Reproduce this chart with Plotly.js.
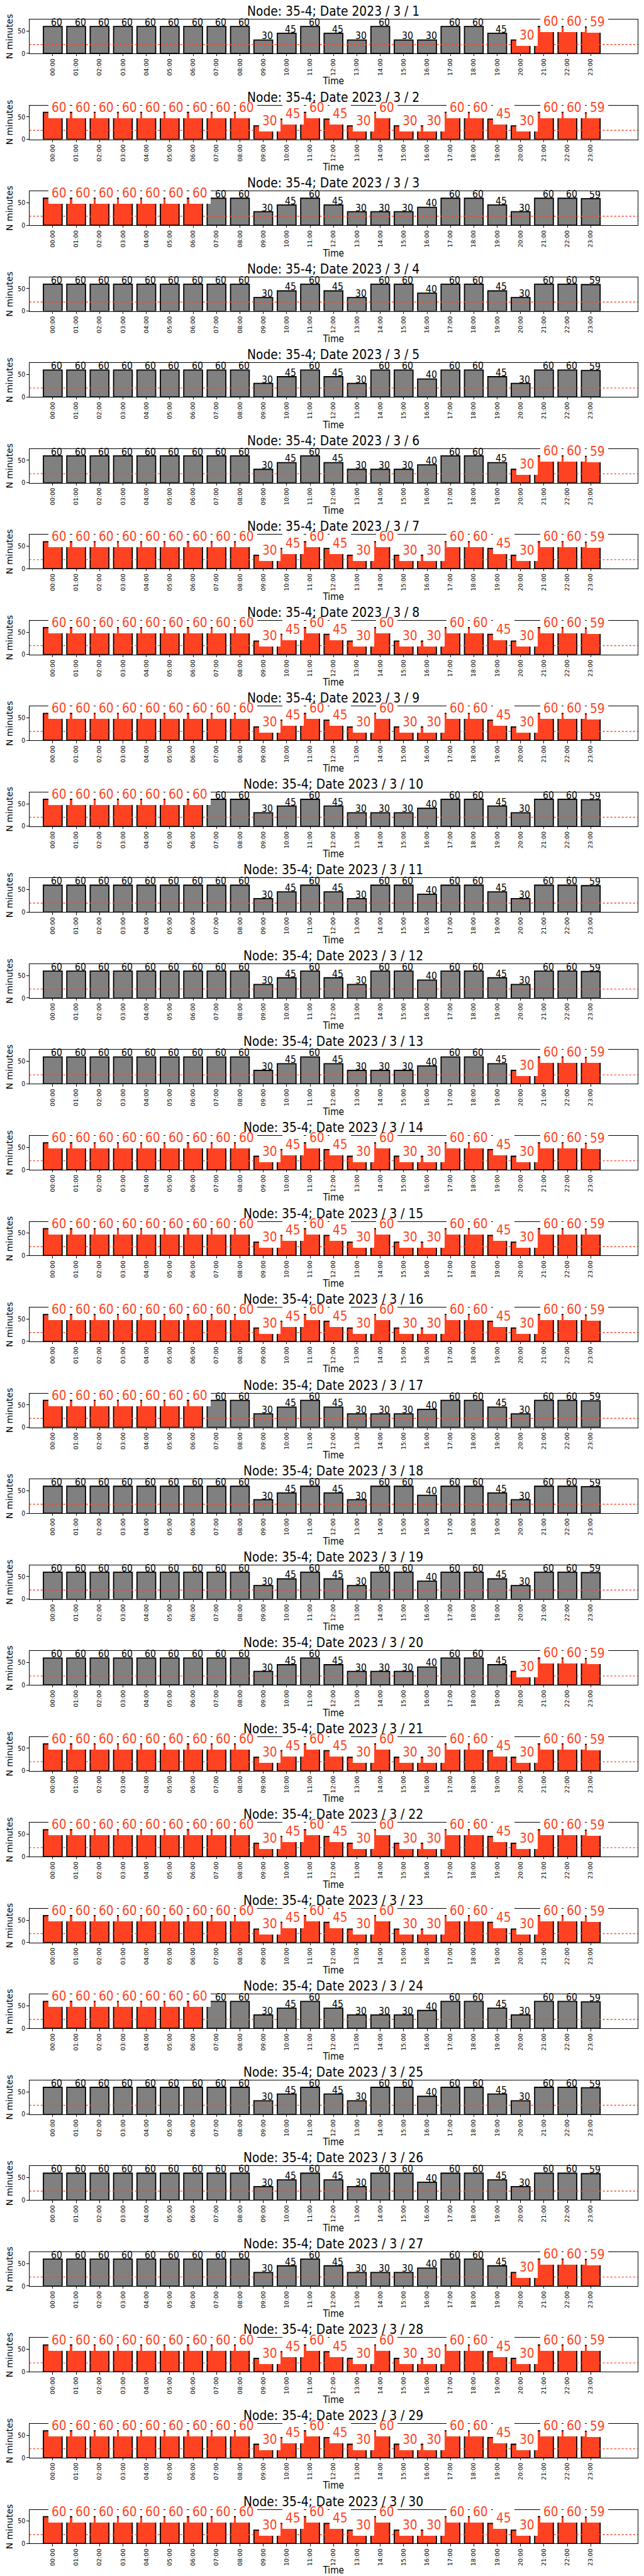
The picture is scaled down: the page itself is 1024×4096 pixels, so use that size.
<!DOCTYPE html>
<html>
<head>
<meta charset="utf-8">
<script src="https://cdn.plot.ly/plotly-3.0.1.min.js"></script>
<style>
html, body { margin: 0; padding: 0; background: #ffffff; }
#chart { width: 1024px; height: 4096px; }
</style>
</head>
<body>
<div id="chart"></div>
<script>
// ---------------- data ----------------
const nodeName = "35-4";
const year = 2023;
const month = 3;
const dayOfMonth = [1,2,3,4,5,6,7,8,9,10,11,12,13,14,15,16,17,18,19,20,21,22,23,24,25,26,27,28,29,30];
const hours = ["00:00","01:00","02:00","03:00","04:00","05:00","06:00","07:00","08:00","09:00","10:00","11:00",
               "12:00","13:00","14:00","15:00","16:00","17:00","18:00","19:00","20:00","21:00","22:00","23:00"];

const day01 = [60,60,60,60,60,60,60,60,60,30,45,60,45,30,60,30,30,60,60,45,30,60,60,59];
const day02 = [60,60,60,60,60,60,60,60,60,30,45,60,45,30,60,30,30,60,60,45,30,60,60,59];
const day03 = [60,60,60,60,60,60,60,60,60,30,45,60,45,30,30,30,40,60,60,45,30,60,60,59];
const day04 = [60,60,60,60,60,60,60,60,60,30,45,60,45,30,60,60,40,60,60,45,30,60,60,59];
const day05 = [60,60,60,60,60,60,60,60,60,30,45,60,45,30,60,60,40,60,60,45,30,60,60,59];
const day06 = [60,60,60,60,60,60,60,60,60,30,45,60,45,30,30,30,40,60,60,45,30,60,60,59];
const day07 = [60,60,60,60,60,60,60,60,60,30,45,60,45,30,60,30,30,60,60,45,30,60,60,59];
const day08 = [60,60,60,60,60,60,60,60,60,30,45,60,45,30,60,30,30,60,60,45,30,60,60,59];
const day09 = [60,60,60,60,60,60,60,60,60,30,45,60,45,30,60,30,30,60,60,45,30,60,60,59];
const day10 = [60,60,60,60,60,60,60,60,60,30,45,60,45,30,30,30,40,60,60,45,30,60,60,59];
const day11 = [60,60,60,60,60,60,60,60,60,30,45,60,45,30,60,60,40,60,60,45,30,60,60,59];
const day12 = [60,60,60,60,60,60,60,60,60,30,45,60,45,30,60,60,40,60,60,45,30,60,60,59];
const day13 = [60,60,60,60,60,60,60,60,60,30,45,60,45,30,30,30,40,60,60,45,30,60,60,59];
const day14 = [60,60,60,60,60,60,60,60,60,30,45,60,45,30,60,30,30,60,60,45,30,60,60,59];
const day15 = [60,60,60,60,60,60,60,60,60,30,45,60,45,30,60,30,30,60,60,45,30,60,60,59];
const day16 = [60,60,60,60,60,60,60,60,60,30,45,60,45,30,60,30,30,60,60,45,30,60,60,59];
const day17 = [60,60,60,60,60,60,60,60,60,30,45,60,45,30,30,30,40,60,60,45,30,60,60,59];
const day18 = [60,60,60,60,60,60,60,60,60,30,45,60,45,30,60,60,40,60,60,45,30,60,60,59];
const day19 = [60,60,60,60,60,60,60,60,60,30,45,60,45,30,60,60,40,60,60,45,30,60,60,59];
const day20 = [60,60,60,60,60,60,60,60,60,30,45,60,45,30,30,30,40,60,60,45,30,60,60,59];
const day21 = [60,60,60,60,60,60,60,60,60,30,45,60,45,30,60,30,30,60,60,45,30,60,60,59];
const day22 = [60,60,60,60,60,60,60,60,60,30,45,60,45,30,60,30,30,60,60,45,30,60,60,59];
const day23 = [60,60,60,60,60,60,60,60,60,30,45,60,45,30,60,30,30,60,60,45,30,60,60,59];
const day24 = [60,60,60,60,60,60,60,60,60,30,45,60,45,30,30,30,40,60,60,45,30,60,60,59];
const day25 = [60,60,60,60,60,60,60,60,60,30,45,60,45,30,60,60,40,60,60,45,30,60,60,59];
const day26 = [60,60,60,60,60,60,60,60,60,30,45,60,45,30,60,60,40,60,60,45,30,60,60,59];
const day27 = [60,60,60,60,60,60,60,60,60,30,45,60,45,30,30,30,40,60,60,45,30,60,60,59];
const day28 = [60,60,60,60,60,60,60,60,60,30,45,60,45,30,60,30,30,60,60,45,30,60,60,59];
const day29 = [60,60,60,60,60,60,60,60,60,30,45,60,45,30,60,30,30,60,60,45,30,60,60,59];
const day30 = [60,60,60,60,60,60,60,60,60,30,45,60,45,30,60,30,30,60,60,45,30,60,60,59];
const minutesPerDay = [day01,day02,day03,day04,day05,day06,day07,day08,day09,day10,
                       day11,day12,day13,day14,day15,day16,day17,day18,day19,day20,
                       day21,day22,day23,day24,day25,day26,day27,day28,day29,day30];

// highlighted (alert) hour range per day, first and last hour index; null = none
const alertFrom = [20, 0, 0, null, null, 20, 0, 0, 0, 0, null, null, 20, 0, 0, 0, 0, null, null, 20, 0, 0, 0, 0, null, null, 20, 0, 0, 0];
const alertTo   = [23,23, 6, null, null, 23,23,23,23, 6, null, null, 23,23,23,23, 6, null, null, 23,23,23,23, 6, null, null, 23,23,23,23];
// days that carry the vertical event marker, and its hour
const eventMarker = [true,false,false,false,false,true,true,true,false,false,false,false,true,true,true,false,false,false,false,true,true,true,false,false,false,false,true,true,true,false];
const eventHour = 20;
const thresholdMinutes = 20;

// ---------------- styling ----------------
const W = 1024, H = 4096;
const RED = "#ff4322";
const GRAY = "#808080";
const COND = "DejaVu Sans Condensed, Liberation Sans Narrow, DejaVu Sans, sans-serif";
const NORM = "DejaVu Sans, sans-serif";
const yMax = 75.6;

const xDom = [68.4 / 1500, 1485 / 1500];
const xCenter = (xDom[0] + xDom[1]) / 2;

const data = [];
const annotations = [];
const titleAnnotations = [];
const shapes = [];
const layout = {
  width: W, height: H,
  margin: {l: 0, r: 0, t: 0, b: 0},
  paper_bgcolor: "#ffffff",
  plot_bgcolor: "#ffffff",
  showlegend: false,
  bargap: 0
};

const hourPos = hours.map((h, i) => i);

minutesPerDay.forEach((vals, d) => {
  const n = d + 1;
  const xa = n === 1 ? "x" : "x" + n;
  const ya = n === 1 ? "y" : "y" + n;
  const xKey = n === 1 ? "xaxis" : "xaxis" + n;
  const yKey = n === 1 ? "yaxis" : "yaxis" + n;

  const topRef = 45.5 + 200 * d;
  const botRef = 124.5 + 200 * d;
  const yDom = [1 - botRef / 6000, 1 - topRef / 6000];

  const isAlert = hourPos.map(i => alertFrom[d] !== null && i >= alertFrom[d] && i <= alertTo[d]);

  data.push({
    type: "bar",
    x: hourPos,
    y: vals,
    width: 0.8,
    xaxis: xa, yaxis: ya,
    marker: {
      color: isAlert.map(a => a ? RED : GRAY),
      line: {color: "#000000", width: 1.8}
    },
    hoverinfo: "skip",
    showlegend: false
  });

  layout[xKey] = {
    domain: xDom,
    anchor: ya,
    range: [-1, 25],
    tickmode: "array",
    tickvals: hourPos,
    ticktext: hours,
    tickangle: -90,
    ticks: "outside", ticklen: 3.3, tickwidth: 1, tickcolor: "#000",
    tickfont: {family: NORM, size: 9.5, color: "#000"},
    showline: true, mirror: true, linecolor: "#000", linewidth: 1,
    showgrid: false, zeroline: false, fixedrange: true,
    title: {text: "Time", font: {family: COND, size: 15.3, color: "#000"}, standoff: 3}
  };
  layout[yKey] = {
    domain: yDom,
    anchor: xa,
    range: [0, yMax],
    tickmode: "array",
    tickvals: [0, 50],
    ticks: "outside", ticklen: 3.3, tickwidth: 1, tickcolor: "#000",
    tickfont: {family: COND, size: 10.5, color: "#000"},
    showline: true, mirror: true, linecolor: "#000", linewidth: 1,
    showgrid: false, zeroline: false, fixedrange: true,
    title: {text: "N minutes", font: {family: NORM, size: 14, color: "#000"}, standoff: 4}
  };

  // threshold line
  shapes.push({
    type: "line", xref: xa + " domain", yref: ya,
    x0: 0, x1: 1, y0: thresholdMinutes, y1: thresholdMinutes,
    line: {color: RED, width: 1.4, dash: "dot"}, layer: "above"
  });
  // event marker
  if (eventMarker[d]) {
    shapes.push({
      type: "line", xref: xa, yref: ya,
      x0: eventHour, x1: eventHour, y0: 0, y1: yMax,
      line: {color: RED, width: 1.8, dash: "dash"}, layer: "above"
    });
  }

  // value labels
  vals.forEach((v, i) => {
    if (isAlert[i]) {
      annotations.push({
        xref: xa, yref: ya, x: i, y: v,
        xanchor: "left", yanchor: "bottom",
        text: String(v), showarrow: false,
        font: {family: COND, size: 20.7, color: RED},
        bgcolor: "#ffffff", borderpad: 5, borderwidth: 0,
        xshift: -6.4, yshift: -9
      });
    } else {
      annotations.push({
        xref: xa, yref: ya, x: i, y: v,
        xanchor: "left", yanchor: "bottom",
        text: String(v), showarrow: false,
        font: {family: COND, size: 15.6, color: "#000"},
        borderpad: 0, borderwidth: 0,
        xshift: -2.4, yshift: -2.9
      });
    }
  });

  titleAnnotations.push({
    xref: "paper", yref: "paper",
    x: xCenter, y: yDom[1],
    xanchor: "center", yanchor: "bottom",
    text: "Node: " + nodeName + "; Date " + year + " / " + month + " / " + dayOfMonth[d],
    showarrow: false,
    font: {family: COND, size: 20.8, color: "#000"},
    borderpad: 0, borderwidth: 0, yshift: 1
  });
});

layout.annotations = annotations.concat(titleAnnotations);
layout.shapes = shapes;

Plotly.newPlot("chart", data, layout, {displayModeBar: false, staticPlot: true});
</script>
</body>
</html>
